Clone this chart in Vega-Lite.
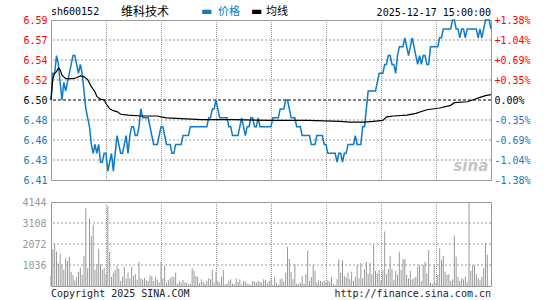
{
  "$schema": "https://vega.github.io/schema/vega-lite/v6.json",
  "background": "white",
  "padding": {"left": 21, "top": 4, "right": 4, "bottom": 2},
  "bounds": "flush",
  "spacing": 22,
  "config": {
    "view": {"stroke": "#999999", "strokeWidth": 1},
    "font": "DejaVu Sans Mono",
    "axis": {"labelFont": "DejaVu Sans Mono", "labelFontSize": 10, "domain": false, "ticks": false, "grid": false, "labelOverlap": false, "labelFlush": false}
  },
  "datasets": {
    "grid": [{"g":30},{"g":60},{"g":90},{"g":120},{"g":150},{"g":180},{"g":210}],
    "pgrid": [{"h":6.4325},{"h":6.455},{"h":6.4775},{"h":6.5225},{"h":6.545},{"h":6.5675}],
    "vgrid": [{"h":1036},{"h":2072},{"h":3108}],
    "price": [
      {"m":0,"p":6.50},{"m":1,"p":6.53},{"m":2,"p":6.53},{"m":3,"p":6.55},{"m":4,"p":6.54},{"m":5,"p":6.52},{"m":6,"p":6.50},{"m":7,"p":6.52},{"m":8,"p":6.51},{"m":9,"p":6.52},
      {"m":10,"p":6.53},{"m":11,"p":6.54},{"m":12,"p":6.55},{"m":13,"p":6.55},{"m":14,"p":6.54},{"m":15,"p":6.53},{"m":16,"p":6.54},{"m":17,"p":6.53},{"m":18,"p":6.51},{"m":19,"p":6.49},
      {"m":20,"p":6.48},{"m":21,"p":6.47},{"m":22,"p":6.45},{"m":23,"p":6.44},{"m":24,"p":6.45},{"m":25,"p":6.44},{"m":26,"p":6.45},{"m":27,"p":6.43},{"m":28,"p":6.43},{"m":29,"p":6.44},
      {"m":30,"p":6.44},{"m":31,"p":6.42},{"m":32,"p":6.43},{"m":33,"p":6.44},{"m":34,"p":6.42},{"m":35,"p":6.44},{"m":36,"p":6.46},{"m":37,"p":6.45},{"m":38,"p":6.44},{"m":39,"p":6.44},
      {"m":40,"p":6.45},{"m":41,"p":6.46},{"m":42,"p":6.44},{"m":43,"p":6.46},{"m":44,"p":6.47},{"m":45,"p":6.47},{"m":46,"p":6.46},{"m":47,"p":6.46},{"m":48,"p":6.47},{"m":49,"p":6.49},
      {"m":50,"p":6.48},{"m":51,"p":6.48},{"m":52,"p":6.48},{"m":53,"p":6.48},{"m":54,"p":6.47},{"m":55,"p":6.46},{"m":56,"p":6.45},{"m":57,"p":6.45},{"m":58,"p":6.45},{"m":59,"p":6.46},
      {"m":60,"p":6.47},{"m":61,"p":6.47},{"m":62,"p":6.46},{"m":63,"p":6.45},{"m":64,"p":6.45},{"m":65,"p":6.45},{"m":66,"p":6.44},{"m":67,"p":6.44},{"m":68,"p":6.45},{"m":69,"p":6.45},
      {"m":70,"p":6.45},{"m":71,"p":6.45},{"m":72,"p":6.46},{"m":73,"p":6.46},{"m":74,"p":6.46},{"m":75,"p":6.46},{"m":76,"p":6.47},{"m":77,"p":6.47},{"m":78,"p":6.47},{"m":79,"p":6.47},
      {"m":80,"p":6.47},{"m":81,"p":6.47},{"m":82,"p":6.47},{"m":83,"p":6.47},{"m":84,"p":6.47},{"m":85,"p":6.47},{"m":86,"p":6.48},{"m":87,"p":6.48},{"m":88,"p":6.49},{"m":89,"p":6.49},
      {"m":90,"p":6.50},{"m":91,"p":6.49},{"m":92,"p":6.48},{"m":93,"p":6.48},{"m":94,"p":6.48},{"m":95,"p":6.48},{"m":96,"p":6.48},{"m":97,"p":6.47},{"m":98,"p":6.47},{"m":99,"p":6.46},
      {"m":100,"p":6.46},{"m":101,"p":6.46},{"m":102,"p":6.46},{"m":103,"p":6.47},{"m":104,"p":6.48},{"m":105,"p":6.47},{"m":106,"p":6.46},{"m":107,"p":6.47},{"m":108,"p":6.47},{"m":109,"p":6.48},
      {"m":110,"p":6.48},{"m":111,"p":6.47},{"m":112,"p":6.47},{"m":113,"p":6.48},{"m":114,"p":6.47},{"m":115,"p":6.47},{"m":116,"p":6.47},{"m":117,"p":6.47},{"m":118,"p":6.47},{"m":119,"p":6.47},
      {"m":120,"p":6.47},{"m":121,"p":6.48},{"m":122,"p":6.48},{"m":123,"p":6.48},{"m":124,"p":6.48},{"m":125,"p":6.49},{"m":126,"p":6.49},{"m":127,"p":6.49},{"m":128,"p":6.50},{"m":129,"p":6.50},
      {"m":130,"p":6.49},{"m":131,"p":6.48},{"m":132,"p":6.48},{"m":133,"p":6.48},{"m":134,"p":6.47},{"m":135,"p":6.47},{"m":136,"p":6.47},{"m":137,"p":6.46},{"m":138,"p":6.46},{"m":139,"p":6.46},
      {"m":140,"p":6.46},{"m":141,"p":6.46},{"m":142,"p":6.45},{"m":143,"p":6.45},{"m":144,"p":6.45},{"m":145,"p":6.46},{"m":146,"p":6.46},{"m":147,"p":6.46},{"m":148,"p":6.46},{"m":149,"p":6.45},
      {"m":150,"p":6.45},{"m":151,"p":6.44},{"m":152,"p":6.44},{"m":153,"p":6.44},{"m":154,"p":6.44},{"m":155,"p":6.44},{"m":156,"p":6.43},{"m":157,"p":6.44},{"m":158,"p":6.44},{"m":159,"p":6.43},
      {"m":160,"p":6.44},{"m":161,"p":6.44},{"m":162,"p":6.45},{"m":163,"p":6.45},{"m":164,"p":6.45},{"m":165,"p":6.45},{"m":166,"p":6.46},{"m":167,"p":6.45},{"m":168,"p":6.45},{"m":169,"p":6.45},
      {"m":170,"p":6.47},{"m":171,"p":6.47},{"m":172,"p":6.49},{"m":173,"p":6.51},{"m":174,"p":6.51},{"m":175,"p":6.51},{"m":176,"p":6.51},{"m":177,"p":6.51},{"m":178,"p":6.52},{"m":179,"p":6.53},
      {"m":180,"p":6.53},{"m":181,"p":6.53},{"m":182,"p":6.54},{"m":183,"p":6.54},{"m":184,"p":6.55},{"m":185,"p":6.55},{"m":186,"p":6.54},{"m":187,"p":6.54},{"m":188,"p":6.53},{"m":189,"p":6.55},
      {"m":190,"p":6.56},{"m":191,"p":6.56},{"m":192,"p":6.56},{"m":193,"p":6.57},{"m":194,"p":6.56},{"m":195,"p":6.55},{"m":196,"p":6.56},{"m":197,"p":6.57},{"m":198,"p":6.56},{"m":199,"p":6.55},
      {"m":200,"p":6.54},{"m":201,"p":6.55},{"m":202,"p":6.54},{"m":203,"p":6.55},{"m":204,"p":6.55},{"m":205,"p":6.54},{"m":206,"p":6.54},{"m":207,"p":6.56},{"m":208,"p":6.56},{"m":209,"p":6.56},
      {"m":210,"p":6.56},{"m":211,"p":6.56},{"m":212,"p":6.57},{"m":213,"p":6.57},{"m":214,"p":6.58},{"m":215,"p":6.58},{"m":216,"p":6.58},{"m":217,"p":6.58},{"m":218,"p":6.58},{"m":219,"p":6.59},
      {"m":220,"p":6.59},{"m":221,"p":6.58},{"m":222,"p":6.58},{"m":223,"p":6.57},{"m":224,"p":6.58},{"m":225,"p":6.58},{"m":226,"p":6.57},{"m":227,"p":6.58},{"m":228,"p":6.58},{"m":229,"p":6.58},
      {"m":230,"p":6.58},{"m":231,"p":6.58},{"m":232,"p":6.58},{"m":233,"p":6.57},{"m":234,"p":6.58},{"m":235,"p":6.57},{"m":236,"p":6.58},{"m":237,"p":6.59},{"m":238,"p":6.59},{"m":239,"p":6.59},
      {"m":240,"p":6.58}
    ],
    "avg": [
      {"m":0,"a":6.500},{"m":1,"a":6.524},{"m":2,"a":6.530},{"m":3,"a":6.532},{"m":4,"a":6.536},{"m":5,"a":6.534},{"m":6,"a":6.528},{"m":8,"a":6.524},{"m":10,"a":6.524},{"m":12,"a":6.524},
      {"m":14,"a":6.525},{"m":16,"a":6.527},{"m":18,"a":6.526},{"m":20,"a":6.523},{"m":22,"a":6.515},{"m":24,"a":6.509},{"m":25,"a":6.504},{"m":27,"a":6.501},{"m":29,"a":6.500},{"m":30,"a":6.496},
      {"m":32,"a":6.490},{"m":34,"a":6.488},{"m":36,"a":6.487},{"m":38,"a":6.484},{"m":42,"a":6.483},{"m":49,"a":6.482},{"m":58,"a":6.482},{"m":60,"a":6.481},{"m":63,"a":6.480},{"m":71,"a":6.479},
      {"m":82,"a":6.478},{"m":100,"a":6.478},{"m":120,"a":6.477},{"m":140,"a":6.477},{"m":158,"a":6.476},{"m":163,"a":6.475},{"m":171,"a":6.475},{"m":176,"a":6.476},{"m":181,"a":6.477},{"m":183,"a":6.481},
      {"m":187,"a":6.482},{"m":194,"a":6.483},{"m":199,"a":6.485},{"m":205,"a":6.489},{"m":212,"a":6.491},{"m":218,"a":6.494},{"m":220,"a":6.497},{"m":227,"a":6.498},{"m":230,"a":6.500},{"m":234,"a":6.503},
      {"m":237,"a":6.505},{"m":240,"a":6.506}
    ],
    "vol": [
      {"m":0,"v":500},{"m":1,"v":1820},{"m":2,"v":2070},{"m":3,"v":1690},{"m":4,"v":1110},{"m":5,"v":1590},{"m":6,"v":1040},{"m":7,"v":800},{"m":8,"v":1390},{"m":9,"v":1230},
      {"m":10,"v":1440},{"m":11,"v":700},{"m":12,"v":530},{"m":13,"v":280},{"m":14,"v":460},{"m":15,"v":700},{"m":16,"v":910},{"m":17,"v":550},{"m":18,"v":1480},{"m":19,"v":3830},
      {"m":20,"v":880},{"m":21,"v":3320},{"m":22,"v":2450},{"m":23,"v":3030},{"m":24,"v":800},{"m":25,"v":1080},{"m":26,"v":1820},{"m":27,"v":1080},{"m":28,"v":800},{"m":29,"v":910},
      {"m":30,"v":600},{"m":31,"v":3930},{"m":32,"v":1690},{"m":33,"v":450},{"m":34,"v":660},{"m":35,"v":780},{"m":36,"v":995},{"m":37,"v":845},{"m":38,"v":250},{"m":39,"v":450},
      {"m":40,"v":945},{"m":41,"v":365},{"m":42,"v":660},{"m":43,"v":380},{"m":44,"v":945},{"m":45,"v":500},{"m":46,"v":580},{"m":47,"v":315},{"m":48,"v":1190},{"m":49,"v":380},
      {"m":50,"v":315},{"m":51,"v":400},{"m":52,"v":280},{"m":53,"v":250},{"m":54,"v":530},{"m":55,"v":480},{"m":56,"v":250},{"m":57,"v":450},{"m":58,"v":315},{"m":59,"v":180},
      {"m":60,"v":1190},{"m":61,"v":380},{"m":62,"v":995},{"m":63,"v":165},{"m":64,"v":280},{"m":65,"v":380},{"m":66,"v":450},{"m":67,"v":450},{"m":68,"v":660},{"m":69,"v":115},
      {"m":70,"v":250},{"m":71,"v":165},{"m":72,"v":300},{"m":73,"v":165},{"m":74,"v":165},{"m":75,"v":80},{"m":76,"v":115},{"m":77,"v":880},{"m":78,"v":745},{"m":79,"v":500},
      {"m":80,"v":450},{"m":81,"v":130},{"m":82,"v":330},{"m":83,"v":200},{"m":84,"v":130},{"m":85,"v":250},{"m":86,"v":380},{"m":87,"v":330},{"m":88,"v":800},{"m":89,"v":165},
      {"m":90,"v":700},{"m":91,"v":250},{"m":92,"v":165},{"m":93,"v":450},{"m":94,"v":800},{"m":95,"v":80},{"m":96,"v":115},{"m":97,"v":280},{"m":98,"v":330},{"m":99,"v":115},
      {"m":100,"v":80},{"m":101,"v":365},{"m":102,"v":200},{"m":103,"v":330},{"m":104,"v":50},{"m":105,"v":250},{"m":106,"v":215},{"m":107,"v":115},{"m":108,"v":80},{"m":109,"v":50},
      {"m":110,"v":250},{"m":111,"v":215},{"m":112,"v":165},{"m":113,"v":250},{"m":114,"v":200},{"m":115,"v":165},{"m":116,"v":330},{"m":117,"v":280},{"m":118,"v":130},{"m":119,"v":250},
      {"m":120,"v":380},{"m":121,"v":50},{"m":122,"v":450},{"m":123,"v":165},{"m":124,"v":80},{"m":125,"v":330},{"m":126,"v":380},{"m":127,"v":215},{"m":128,"v":660},{"m":129,"v":1940},
      {"m":130,"v":1340},{"m":131,"v":700},{"m":132,"v":330},{"m":133,"v":1080},{"m":134,"v":115},{"m":135,"v":80},{"m":136,"v":165},{"m":137,"v":500},{"m":138,"v":115},{"m":139,"v":580},
      {"m":140,"v":1740},{"m":141,"v":250},{"m":142,"v":450},{"m":143,"v":1045},{"m":144,"v":745},{"m":145,"v":165},{"m":146,"v":280},{"m":147,"v":250},{"m":148,"v":200},{"m":149,"v":280},
      {"m":150,"v":165},{"m":151,"v":280},{"m":152,"v":215},{"m":153,"v":450},{"m":154,"v":115},{"m":155,"v":50},{"m":156,"v":330},{"m":157,"v":1310},{"m":158,"v":660},{"m":159,"v":1275},
      {"m":160,"v":500},{"m":161,"v":415},{"m":162,"v":660},{"m":163,"v":330},{"m":164,"v":710},{"m":165,"v":250},{"m":166,"v":450},{"m":167,"v":1030},{"m":168,"v":380},{"m":169,"v":1130},
      {"m":170,"v":380},{"m":171,"v":830},{"m":172,"v":1190},{"m":173,"v":610},{"m":174,"v":1145},{"m":175,"v":580},{"m":176,"v":2040},{"m":177,"v":745},{"m":178,"v":610},{"m":179,"v":780},
      {"m":180,"v":280},{"m":181,"v":780},{"m":182,"v":2690},{"m":183,"v":580},{"m":184,"v":830},{"m":185,"v":1490},{"m":186,"v":830},{"m":187,"v":280},{"m":188,"v":745},{"m":189,"v":550},
      {"m":190,"v":1690},{"m":191,"v":800},{"m":192,"v":1325},{"m":193,"v":1325},{"m":194,"v":550},{"m":195,"v":380},{"m":196,"v":745},{"m":197,"v":330},{"m":198,"v":380},{"m":199,"v":450},
      {"m":200,"v":945},{"m":201,"v":1045},{"m":202,"v":250},{"m":203,"v":1045},{"m":204,"v":1190},{"m":205,"v":610},{"m":206,"v":1770},{"m":207,"v":165},{"m":208,"v":115},{"m":209,"v":1045},
      {"m":210,"v":165},{"m":211,"v":550},{"m":212,"v":1870},{"m":213,"v":1290},{"m":214,"v":1490},{"m":215,"v":700},{"m":216,"v":550},{"m":217,"v":580},{"m":218,"v":250},{"m":219,"v":330},
      {"m":220,"v":2490},{"m":221,"v":1440},{"m":222,"v":450},{"m":223,"v":250},{"m":224,"v":380},{"m":225,"v":330},{"m":226,"v":450},{"m":227,"v":200},{"m":228,"v":4144},{"m":229,"v":745},
      {"m":230,"v":1045},{"m":231,"v":995},{"m":232,"v":580},{"m":233,"v":380},{"m":234,"v":280},{"m":235,"v":450},{"m":236,"v":880},{"m":237,"v":2120},{"m":238,"v":1540}
    ]
  },
  "vconcat": [
    {
      "width": 440,
      "height": 160,
      "layer": [
        {
          "data": {"name": "grid"},
          "mark": {"type": "rule", "color": "#999999", "strokeDash": [1, 1], "strokeWidth": 1, "xOffset": 0.5},
          "encoding": {
            "x": {"field": "g", "type": "quantitative", "scale": {"domain": [0, 240], "nice": false, "zero": false}, "axis": null}
          }
        },
        {
          "data": {"name": "pgrid"},
          "mark": {"type": "rule", "color": "#999999", "strokeDash": [2, 2], "strokeWidth": 1},
          "encoding": {
            "y": {"field": "h", "type": "quantitative", "scale": {"domain": [6.41, 6.59], "nice": false, "zero": false}, "axis": null}
          }
        },
        {
          "data": {"values": [{"b": 6.5}]},
          "mark": {"type": "rule", "color": "#000000", "strokeDash": [3, 2], "strokeWidth": 1},
          "encoding": {
            "y": {"field": "b", "type": "quantitative", "scale": {"domain": [6.41, 6.59], "nice": false, "zero": false}, "axis": null}
          }
        },
        {
          "data": {"name": "price"},
          "mark": {"type": "line", "color": "#0c7bc9", "strokeWidth": 1.5},
          "encoding": {
            "x": {"field": "m", "type": "quantitative", "scale": {"domain": [0, 240], "nice": false, "zero": false},
                  "axis": {"values": [0, 30, 60, 90, 120, 150, 180, 210, 240], "grid": false, "title": null, "labelColor": "#1874c6", "labelPadding": 5,
                           "labelExpr": "['09:30','10:00','10:30','11:00','11:30','13:30','14:00','14:30','15:00'][round(datum.value/30)]"}},
            "y": {"field": "p", "type": "quantitative", "scale": {"domain": [6.41, 6.59], "nice": false, "zero": false},
                  "axis": {"orient": "left", "values": [6.41, 6.4325, 6.455, 6.4775, 6.5, 6.5225, 6.545, 6.5675, 6.59], "format": ".2f", "grid": false, "title": null, "labelPadding": 4,
                           "labelColor": {"condition": [{"test": "datum.value > 6.501", "value": "#ff0000"}, {"test": "datum.value < 6.499", "value": "#1874c6"}], "value": "#000000"}}}
          }
        },
        {
          "data": {"name": "avg"},
          "mark": {"type": "line", "color": "#000000", "strokeWidth": 1.2},
          "encoding": {
            "x": {"field": "m", "type": "quantitative", "axis": null},
            "y": {"field": "a", "type": "quantitative", "scale": {"domain": [6.41, 6.59], "nice": false, "zero": false},
                  "axis": {"orient": "right", "values": [6.41, 6.4325, 6.455, 6.4775, 6.5, 6.5225, 6.545, 6.5675, 6.59], "grid": false, "title": null, "labelPadding": 3,
                           "labelExpr": "(datum.value > 6.501 ? '+' : datum.value < 6.499 ? '-' : '') + format(abs(datum.value - 6.5) / 6.5 * 100, '.2f') + '%'",
                           "labelColor": {"condition": [{"test": "datum.value > 6.501", "value": "#ff0000"}, {"test": "datum.value < 6.499", "value": "#1874c6"}], "value": "#000000"}}}
          }
        },
        {
          "data": {"values": [{"t": "sina"}]},
          "mark": {"type": "text", "align": "center", "baseline": "middle", "font": "DejaVu Sans", "fontSize": 15, "fontWeight": "bold", "fontStyle": "italic", "color": "#c4c4c4"},
          "encoding": {
            "x": {"datum": 229, "axis": null},
            "y": {"datum": 6.426, "scale": {"domain": [6.41, 6.59], "nice": false, "zero": false}, "axis": null},
            "text": {"field": "t"}
          }
        },
        {
          "data": {"values": [{"t": "sh600152"}]},
          "mark": {"type": "text", "align": "left", "baseline": "middle", "dy": -8, "font": "DejaVu Sans Mono", "fontSize": 10, "color": "#000000"},
          "encoding": {
            "x": {"datum": 0, "axis": null},
            "y": {"datum": 6.59, "scale": {"domain": [6.41, 6.59], "nice": false, "zero": false}, "axis": null},
            "text": {"field": "t"}
          }
        },
        {
          "data": {"values": [{"t": "维科技术"}]},
          "mark": {"type": "text", "align": "left", "baseline": "middle", "dx": 70, "dy": -8.5, "font": "Noto Sans CJK SC", "fontSize": 12, "color": "#000000"},
          "encoding": {
            "x": {"datum": 0, "axis": null},
            "y": {"datum": 6.59, "scale": {"domain": [6.41, 6.59], "nice": false, "zero": false}, "axis": null},
            "text": {"field": "t"}
          }
        },
        {
          "data": {"values": [{"t": "▬"}]},
          "mark": {"type": "text", "align": "left", "baseline": "middle", "dx": 150, "dy": -9, "font": "DejaVu Sans", "fontSize": 12, "color": "#0c7bc9"},
          "encoding": {
            "x": {"datum": 0, "axis": null},
            "y": {"datum": 6.59, "scale": {"domain": [6.41, 6.59], "nice": false, "zero": false}, "axis": null},
            "text": {"field": "t"}
          }
        },
        {
          "data": {"values": [{"t": "价格"}]},
          "mark": {"type": "text", "align": "left", "baseline": "middle", "dx": 167, "dy": -8.5, "font": "Noto Sans CJK SC", "fontSize": 11, "color": "#0c7bc9"},
          "encoding": {
            "x": {"datum": 0, "axis": null},
            "y": {"datum": 6.59, "scale": {"domain": [6.41, 6.59], "nice": false, "zero": false}, "axis": null},
            "text": {"field": "t"}
          }
        },
        {
          "data": {"values": [{"t": "▬"}]},
          "mark": {"type": "text", "align": "left", "baseline": "middle", "dx": 200, "dy": -9, "font": "DejaVu Sans", "fontSize": 12, "color": "#000000"},
          "encoding": {
            "x": {"datum": 0, "axis": null},
            "y": {"datum": 6.59, "scale": {"domain": [6.41, 6.59], "nice": false, "zero": false}, "axis": null},
            "text": {"field": "t"}
          }
        },
        {
          "data": {"values": [{"t": "均线"}]},
          "mark": {"type": "text", "align": "left", "baseline": "middle", "dx": 215, "dy": -8.5, "font": "Noto Sans CJK SC", "fontSize": 11, "color": "#000000"},
          "encoding": {
            "x": {"datum": 0, "axis": null},
            "y": {"datum": 6.59, "scale": {"domain": [6.41, 6.59], "nice": false, "zero": false}, "axis": null},
            "text": {"field": "t"}
          }
        },
        {
          "data": {"values": [{"t": "2025-12-17 15:00:00"}]},
          "mark": {"type": "text", "align": "right", "baseline": "middle", "dy": -7.5, "font": "DejaVu Sans Mono", "fontSize": 10, "color": "#000000"},
          "encoding": {
            "x": {"datum": 240, "axis": null},
            "y": {"datum": 6.59, "scale": {"domain": [6.41, 6.59], "nice": false, "zero": false}, "axis": null},
            "text": {"field": "t"}
          }
        }
      ],
      "resolve": {"scale": {"y": "independent"}, "axis": {"y": "independent"}}
    },
    {
      "width": 440,
      "height": 84,
      "layer": [
        {
          "data": {"name": "grid"},
          "mark": {"type": "rule", "color": "#999999", "strokeDash": [1, 1], "strokeWidth": 1, "xOffset": 0.5},
          "encoding": {
            "x": {"field": "g", "type": "quantitative", "scale": {"domain": [0, 240], "nice": false, "zero": false}, "axis": null}
          }
        },
        {
          "data": {"name": "vgrid"},
          "mark": {"type": "rule", "color": "#999999", "strokeDash": [2, 2], "strokeWidth": 1},
          "encoding": {
            "y": {"field": "h", "type": "quantitative", "scale": {"domain": [0, 4144], "nice": false}, "axis": null}
          }
        },
        {
          "data": {"name": "vol"},
          "mark": {"type": "rule", "color": "#999999", "strokeWidth": 1},
          "encoding": {
            "x": {"field": "m", "type": "quantitative", "scale": {"domain": [0, 240], "nice": false, "zero": false}, "axis": null},
            "y": {"field": "v", "type": "quantitative", "scale": {"domain": [0, 4144], "nice": false},
                  "axis": {"orient": "left", "values": [1036, 2072, 3108, 4144], "format": "d", "grid": false, "title": null, "labelColor": "#999999", "labelPadding": 5}},
            "y2": {"datum": 0}
          }
        },
        {
          "data": {"values": [{"t": "Copyright 2025 SINA.COM"}]},
          "mark": {"type": "text", "align": "left", "baseline": "middle", "dy": 8, "font": "DejaVu Sans Mono", "fontSize": 10, "color": "#222222"},
          "encoding": {
            "x": {"datum": 0, "axis": null},
            "y": {"datum": 0, "scale": {"domain": [0, 4144], "nice": false}, "axis": null},
            "text": {"field": "t"}
          }
        },
        {
          "data": {"values": [{"t": "http://finance.sina.com.cn"}]},
          "mark": {"type": "text", "align": "right", "baseline": "middle", "dy": 8, "font": "DejaVu Sans Mono", "fontSize": 10, "color": "#222222"},
          "encoding": {
            "x": {"datum": 240, "axis": null},
            "y": {"datum": 0, "scale": {"domain": [0, 4144], "nice": false}, "axis": null},
            "text": {"field": "t"}
          }
        }
      ],
      "resolve": {"scale": {"y": "independent"}, "axis": {"y": "independent"}}
    }
  ]
}
